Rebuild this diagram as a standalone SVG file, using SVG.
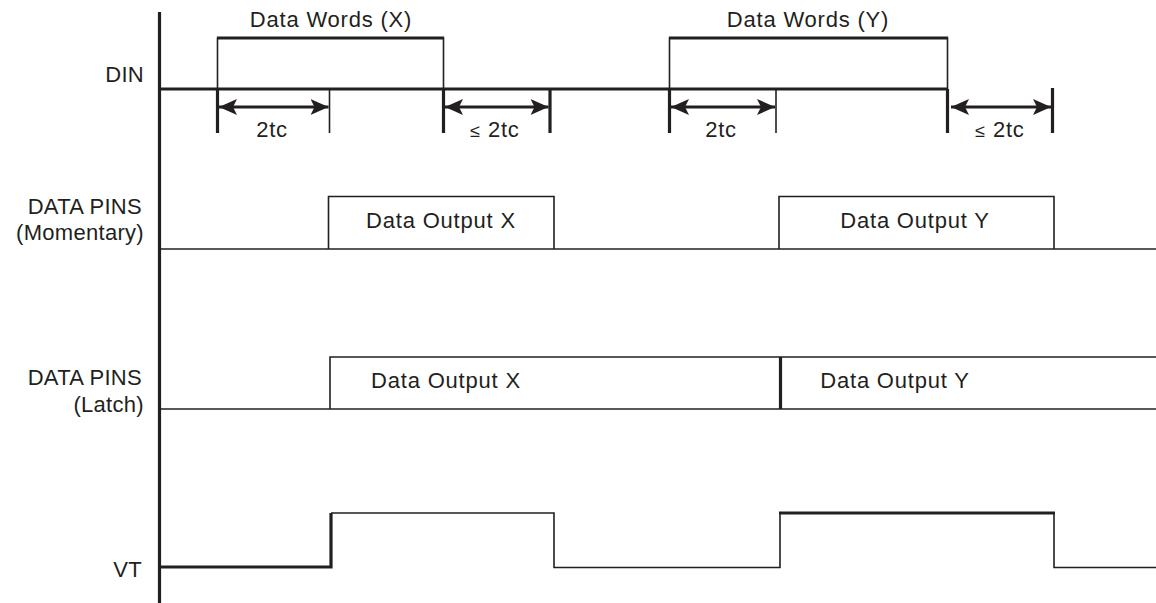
<svg xmlns="http://www.w3.org/2000/svg" width="1156" height="603" viewBox="0 0 1156 603">
<style>
text{font-family:"Liberation Sans",Arial,sans-serif;font-size:22px;fill:#231f20}
.lab{text-anchor:end;letter-spacing:0.3px}
.c{text-anchor:middle;letter-spacing:0.8px}
.thin{stroke:#231f20;stroke-width:1.6;fill:none}
.thick{stroke:#231f20;stroke-width:3.2;fill:none}
</style>
<defs>
<marker id="arr" viewBox="0 0 18 18" refX="18" refY="9" markerWidth="18" markerHeight="18" markerUnits="userSpaceOnUse" orient="auto-start-reverse">
<path d="M18,9 L0,1 L4,9 L0,17 Z" fill="#231f20"/>
</marker>
</defs>
<rect width="1156" height="603" fill="#ffffff"/>

<g id="axis">
<line class="thick" x1="159.5" y1="12" x2="159.5" y2="603"/>
</g>

<g id="labels">
<text class="lab" x="144" y="82">DIN</text>
<text class="lab" x="142" y="214">DATA PINS</text>
<text class="lab" x="144" y="240">(Momentary)</text>
<text class="lab" x="142" y="385">DATA PINS</text>
<text class="lab" x="144" y="412">(Latch)</text>
<text class="lab" x="142" y="577">VT</text>
</g>

<g id="din">
<line class="thick" x1="160" y1="89" x2="947" y2="89"/>
<polyline class="thin" points="217.5,89 217.5,38 443.5,38 443.5,89"/>
<line class="thick" x1="217" y1="38" x2="444" y2="38"/>
<polyline class="thin" points="669.5,89 669.5,38 947.5,38 947.5,89"/>
<line class="thick" x1="669" y1="38" x2="948" y2="38"/>
<text class="c" x="331" y="27">Data Words (X)</text>
<text class="c" x="808" y="27">Data Words (Y)</text>
</g>

<g id="din-timing">
<line class="thick" x1="217.5" y1="89" x2="217.5" y2="133"/>
<line class="thin" x1="329.5" y1="89" x2="329.5" y2="133"/>
<line class="thick" x1="443.5" y1="89" x2="443.5" y2="133"/>
<line class="thick" x1="550" y1="89" x2="550" y2="133"/>
<line class="thick" x1="669.5" y1="89" x2="669.5" y2="133"/>
<line class="thin" x1="776" y1="89" x2="776" y2="133"/>
<line class="thick" x1="947.5" y1="89" x2="947.5" y2="133"/>
<line class="thick" x1="1052.5" y1="88" x2="1052.5" y2="133"/>
<text class="c" x="272" y="137">2tc</text>
<text class="c" x="495" y="137"><tspan font-size="18">≤</tspan> 2tc</text>
<text class="c" x="721" y="137">2tc</text>
<text class="c" x="1000" y="137"><tspan font-size="18">≤</tspan> 2tc</text>
</g>

<g id="connectors">
<line class="thick" x1="219" y1="107" x2="328.5" y2="107" marker-start="url(#arr)" marker-end="url(#arr)"/>
<line class="thick" x1="445" y1="107" x2="548.5" y2="107" marker-start="url(#arr)" marker-end="url(#arr)"/>
<line class="thick" x1="671" y1="107" x2="775" y2="107" marker-start="url(#arr)" marker-end="url(#arr)"/>
<line class="thick" x1="951" y1="107" x2="1051" y2="107" marker-start="url(#arr)" marker-end="url(#arr)"/>
</g>

<g id="momentary">
<line class="thin" x1="160" y1="249" x2="1156" y2="249"/>
<polyline class="thin" points="328.5,249 328.5,196.5 554,196.5 554,249"/>
<polyline class="thin" points="779,249 779,196.5 1054,196.5 1054,249"/>
<text class="c" x="441" y="228">Data Output X</text>
<text class="c" x="915" y="228">Data Output Y</text>
</g>

<g id="latch">
<line class="thin" x1="160" y1="409" x2="1156" y2="409"/>
<polyline class="thin" points="330,409 330,357 1156,357"/>
<line class="thick" x1="780.5" y1="357" x2="780.5" y2="409"/>
<text class="c" x="446" y="388">Data Output X</text>
<text class="c" x="895" y="388">Data Output Y</text>
</g>

<g id="vt">
<polyline class="thick" points="160,567 331,567 331,513"/>
<polyline class="thin" points="331,513 554,513 554,567.5 780,567.5 780,513.5"/>
<line class="thick" x1="779" y1="513" x2="1055" y2="513"/>
<polyline class="thin" points="1054,513 1054,567.5 1156,567.5"/>
</g>
</svg>
